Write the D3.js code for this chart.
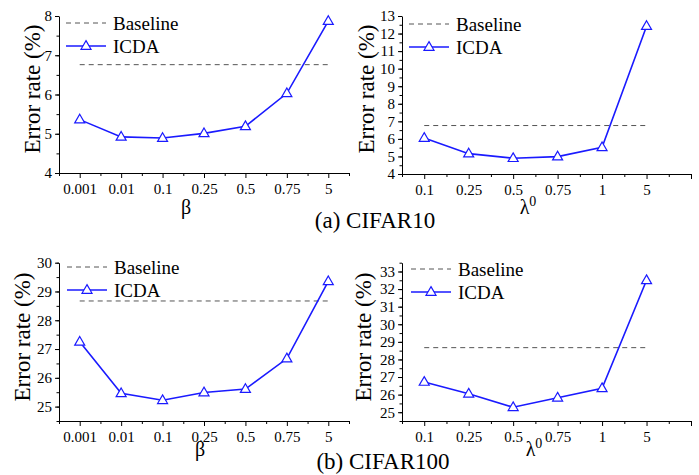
<!DOCTYPE html>
<html><head><meta charset="utf-8">
<script src="https://cdn.jsdelivr.net/npm/d3@7"></script>
<style>body{margin:0;background:#fff}svg{display:block}svg text{font-family:"Liberation Serif","Times New Roman",serif !important}</style>
</head><body><svg id="c" width="699" height="475"></svg>
<script>
// ---- data ----
const betaCats = ["0.001","0.01","0.1","0.25","0.5","0.75","5"];
const lambdaCats = ["0.1","0.25","0.5","0.75","1","5"];
const c10Beta = [5.36, 4.92, 4.89, 5.01, 5.19, 6.03, 7.87];
const c10Lambda = [6.05, 5.16, 4.90, 4.99, 5.52, 12.42];
const c100Beta = [27.25, 25.46, 25.22, 25.49, 25.61, 26.67, 29.35];
const c100Lambda = [26.72, 26.05, 25.28, 25.82, 26.36, 32.50];
const c10Baseline = 6.76;
const c100Baseline = 28.67;
const c10BetaTicks = [4,5,6,7,8];
const c10LambdaTicks = [4,5,6,7,8,9,10,11,12,13];
const c100BetaTicks = [25,26,27,28,29,30];
const c100LambdaTicks = [25,26,27,28,29,30,31,32,33];
const seriesNames = ["Baseline","ICDA"];
const captions = ["(a) CIFAR10","(b) CIFAR100"];

const FONT = '"Liberation Serif","Times New Roman",serif';
const svg = d3.select("#c");
const blue = "#1a1aff";

function tri(x,y,s){
  const h=s*0.866;
  return `M${x},${y-h*0.62}L${x+s/2},${y+h*0.38}L${x-s/2},${y+h*0.38}Z`;
}

function panel(o){
  const g = svg.append("g");
  const x = d3.scaleLinear().domain(o.xdom).range([o.x0,o.x1]);
  const y = d3.scaleLinear().domain(o.ydom).range([o.y1,o.y0]);
  const xMajor = d3.range(0, Math.floor(o.xdom[1])+1);
  const xMinor = d3.range(-0.5, o.xdom[1]+0.01, 1);
  g.append("g").attr("transform",`translate(0,${o.y1})`)
    .call(d3.axisBottom(x).tickValues(xMinor).tickSize(3).tickFormat(""))
    .call(a=>a.select(".domain").remove());
  const ax = g.append("g").attr("transform",`translate(0,${o.y1})`)
    .call(d3.axisBottom(x).tickValues(xMajor).tickSize(5).tickSizeOuter(0).tickPadding(5)
      .tickFormat(i=>o.cats[i]!==undefined?o.cats[i]:""));
  ax.select(".domain").attr("d",`M${o.x0},0.5H${o.x1}`);
  ax.attr("font-family",null);
  ax.selectAll("text").attr("font-size",15).attr("fill","#000").style("font-family",FONT);
  ax.selectAll("line,path").attr("stroke","#000");
  const yMinor = d3.range(o.ydom[0], o.ydom[1]+0.001, 0.5);
  g.append("g").attr("transform",`translate(${o.x0},0)`)
    .call(d3.axisLeft(y).tickValues(yMinor).tickSize(2.5).tickFormat(""))
    .call(a=>a.select(".domain").remove());
  const ay = g.append("g").attr("transform",`translate(${o.x0},0)`)
    .call(d3.axisLeft(y).tickValues(o.yticks).tickSize(4).tickSizeOuter(0).tickPadding(3).tickFormat(d3.format("d")));
  ay.attr("font-family",null);
  ay.selectAll("text").attr("font-size",15).attr("fill","#000").style("font-family",FONT);
  ay.selectAll("line,path").attr("stroke","#000");
  g.selectAll(".tick line").attr("stroke","#000");
  // baseline
  g.append("line").attr("x1",x(0)).attr("x2",x(o.cats.length-1))
    .attr("y1",y(o.base)).attr("y2",y(o.base))
    .attr("stroke","#555").attr("stroke-width",1).attr("stroke-dasharray","5,4");
  const line = d3.line().x((d,i)=>x(i)).y(d=>y(d));
  g.append("path").datum(o.vals).attr("d",line).attr("fill","none").attr("stroke",blue).attr("stroke-width",1.6);
  g.selectAll(".m").data(o.vals).enter().append("path")
    .attr("d",(d,i)=>tri(x(i),y(d),10)).attr("fill","#fff").attr("stroke",blue).attr("stroke-width",1.2);
  // legend
  const L = o.leg;
  g.append("line").attr("x1",L.x).attr("x2",L.x+40).attr("y1",L.y).attr("y2",L.y)
    .attr("stroke","#555").attr("stroke-dasharray","5,4");
  g.append("text").attr("x",L.x+47).attr("y",L.y+7).attr("font-size",19).style("font-family",FONT).text(seriesNames[0]);
  g.append("line").attr("x1",L.x).attr("x2",L.x+40).attr("y1",L.y+23).attr("y2",L.y+23)
    .attr("stroke",blue).attr("stroke-width",1.6);
  g.append("path").attr("d",tri(L.x+20,L.y+23,10)).attr("fill","#fff").attr("stroke",blue).attr("stroke-width",1.2);
  g.append("text").attr("x",L.x+47).attr("y",L.y+30).attr("font-size",19).style("font-family",FONT).text(seriesNames[1]);
  // titles
  g.append("text").attr("transform",`translate(${o.ylx},${o.yly}) rotate(-90)`)
    .attr("text-anchor","middle").attr("dy","0.35em").attr("font-size",23).style("font-family",FONT).text("Error rate (%)");
  const t = g.append("text").attr("x",o.xtx).attr("y",o.xty).attr("text-anchor","middle").attr("font-size",20).style("font-family",FONT);
  if(o.lambda){
    t.append("tspan").text("λ");
    t.append("tspan").attr("font-size",14).attr("dy","-8").text("0");
  } else t.text("β");
}

panel({cats:betaCats, vals:c10Beta, base:c10Baseline, xdom:[-0.5,6.5], ydom:[4,8], yticks:c10BetaTicks,
  x0:59, x1:349, y0:16, y1:173, leg:{x:66,y:23}, ylx:32, yly:89, xtx:186, xty:214});
panel({cats:lambdaCats, vals:c10Lambda, base:c10Baseline, xdom:[-0.5,6], ydom:[4,13], yticks:c10LambdaTicks,
  x0:402, x1:691, y0:16, y1:174, leg:{x:409,y:24}, ylx:366, yly:89, xtx:528, xty:214, lambda:true});
panel({cats:betaCats, vals:c100Beta, base:c100Baseline, xdom:[-0.5,6.5], ydom:[24.5,30], yticks:c100BetaTicks,
  x0:59, x1:349, y0:262.7, y1:421, leg:{x:67,y:267}, ylx:22, yly:337, xtx:200, xty:456});
panel({cats:lambdaCats, vals:c100Lambda, base:c100Baseline, xdom:[-0.5,6], ydom:[24.5,33.5], yticks:c100LambdaTicks,
  x0:402, x1:691, y0:262.7, y1:421, leg:{x:411,y:269}, ylx:363, yly:337, xtx:534, xty:456, lambda:true});

svg.append("text").attr("x",375).attr("y",228).attr("text-anchor","middle").attr("font-size",23).style("font-family",FONT).text(captions[0]);
svg.append("text").attr("x",383).attr("y",469).attr("text-anchor","middle").attr("font-size",23).style("font-family",FONT).text(captions[1]);
</script></body></html>
